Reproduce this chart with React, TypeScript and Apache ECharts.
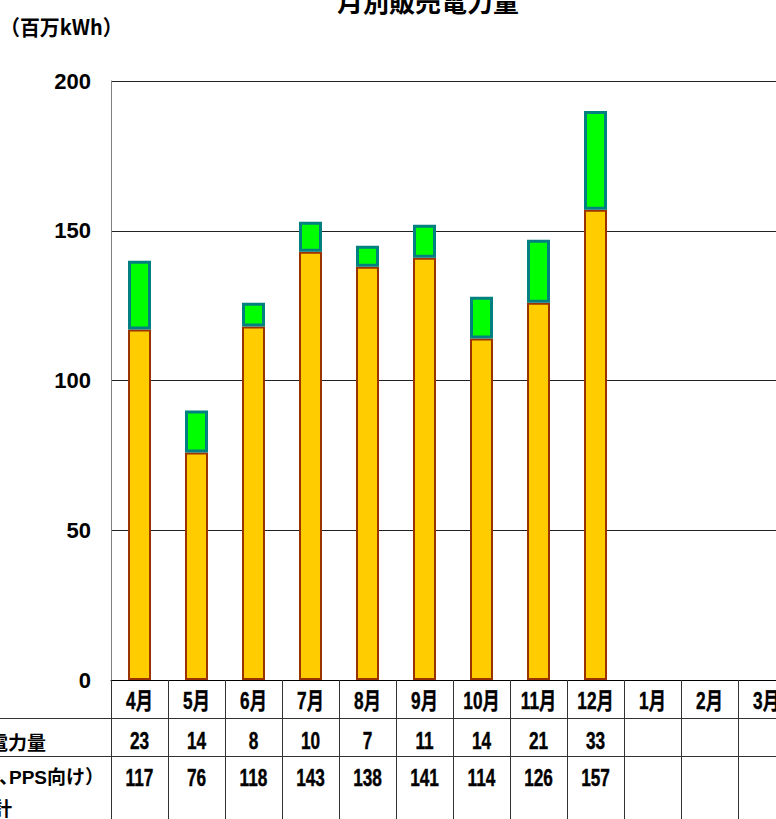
import React, { useEffect, useRef } from "react";
import * as echarts from "echarts";

const months = ["4月", "5月", "6月", "7月", "8月", "9月", "10月", "11月", "12月", "1月", "2月", "3月"];
const mainSales: (number | null)[] = [117, 76, 118, 143, 138, 141, 114, 126, 157, null, null, null];
const otherSales: (number | null)[] = [23, 14, 8, 10, 7, 11, 14, 21, 33, null, null, null];
const yTicks = [0, 50, 100, 150, 200];

const title = "月別販売電力量";
const unitLabel = "（百万kWh）";
const rowLabel1 = "他社販売電力量";
const rowLabel2a = "（自由化対象､PPS向け）";
const rowLabel2b = "販売電力量合計";

const NUM_FONT = "'Liberation Sans', 'Noto Sans CJK JP', sans-serif";
const CJK_FONT = "'Noto Sans CJK JP', sans-serif";

export default function App() {
  const ref = useRef<HTMLDivElement>(null);
  useEffect(() => {
    if (!ref.current) return;
    const chart = echarts.init(ref.current, undefined, { renderer: "svg" });
    const gridLeft = 111;
    const gridTop = 81;
    const gridHeight = 599;
    const gridWidth = 684;
    const tableLine = "#333";
    chart.setOption({
      animation: false,
      backgroundColor: "#ffffff",
      grid: { left: gridLeft, top: gridTop, width: gridWidth, height: gridHeight },
      xAxis: {
        type: "category",
        data: months,
        position: "bottom",
        axisLine: { show: true, lineStyle: { color: "#000", width: 1 } },
        axisTick: { show: true, interval: 0, length: 139, lineStyle: { color: tableLine, width: 1 } },
        axisLabel: { show: false },
      },
      yAxis: {
        type: "value",
        min: yTicks[0],
        max: yTicks[yTicks.length - 1],
        interval: 50,
        axisLine: { show: true, lineStyle: { color: "#808080", width: 1 } },
        axisTick: { show: false },
        splitLine: { show: true, lineStyle: { color: "#222", width: 1 } },
        axisLabel: {
          margin: 20,
          fontSize: 22,
          fontWeight: "bold",
          color: "#000",
          fontFamily: "'Liberation Sans', 'DejaVu Sans', sans-serif",
        },
      },
      series: [
        {
          name: "main",
          type: "bar",
          stack: "total",
          barWidth: 23,
          data: mainSales,
          itemStyle: { color: "#FFCC00", borderColor: "#993300", borderWidth: 2 },
        },
        {
          name: "other",
          type: "bar",
          stack: "total",
          barWidth: 23,
          data: otherSales,
          itemStyle: { color: "#00FF00", borderColor: "#008080", borderWidth: 3 },
        },
      ],
    });

    const cellText = (x: number, y: number, text: string) => ({
      type: "text",
      x,
      y,
      scaleX: 0.75,
      style: {
        text,
        fontSize: 23,
        fontWeight: "bold",
        fontFamily: NUM_FONT,
        fill: "#000",
        stroke: "#000",
        lineWidth: 0.4,
        align: "center",
        verticalAlign: "middle",
      },
    });
    const tableTexts: any[] = [];
    months.forEach((m, i) => {
      const px = chart.convertToPixel({ xAxisIndex: 0 }, i) as number;
      tableTexts.push(cellText(px, 701, m));
      const o = otherSales[i];
      const s = mainSales[i];
      if (o != null) tableTexts.push(cellText(px, 741, String(o)));
      if (s != null) tableTexts.push(cellText(px, 778, String(s)));
    });

    chart.setOption({
      graphic: [
        {
          type: "text",
          x: 428,
          y: 0,
          style: {
            text: title,
            fontSize: 26,
            fontWeight: "bold",
            fontFamily: CJK_FONT,
            fill: "#000",
            align: "center",
            verticalAlign: "middle",
          },
        },
        {
          type: "text",
          x: 0,
          y: 26,
          scaleX: 0.95,
          style: {
            text: unitLabel,
            fontSize: 21,
            fontWeight: "bold",
            fontFamily: CJK_FONT,
            fill: "#000",
            align: "left",
            verticalAlign: "middle",
          },
        },
        { type: "line", shape: { x1: 0, y1: 718.5, x2: 800, y2: 718.5 }, style: { stroke: tableLine, lineWidth: 1 } },
        { type: "line", shape: { x1: 0, y1: 756.5, x2: 800, y2: 756.5 }, style: { stroke: tableLine, lineWidth: 1 } },
        {
          type: "text",
          x: 46,
          y: 741,
          style: {
            text: rowLabel1,
            fontSize: 19,
            fontWeight: "bold",
            fontFamily: CJK_FONT,
            fill: "#000",
            align: "right",
            verticalAlign: "middle",
          },
        },
        {
          type: "text",
          x: 104,
          y: 777,
          style: {
            text: rowLabel2a,
            fontSize: 19,
            fontWeight: "bold",
            fontFamily: NUM_FONT,
            fill: "#000",
            align: "right",
            verticalAlign: "middle",
          },
        },
        {
          type: "text",
          x: 12,
          y: 807,
          style: {
            text: rowLabel2b,
            fontSize: 19,
            fontWeight: "bold",
            fontFamily: CJK_FONT,
            fill: "#000",
            align: "right",
            verticalAlign: "middle",
          },
        },
        ...tableTexts,
      ],
    });
    return () => chart.dispose();
  }, []);
  return (
    <div
      ref={ref}
      style={{ position: "fixed", left: 0, top: 0, width: 800, height: 819, background: "#fff" }}
    />
  );
}
